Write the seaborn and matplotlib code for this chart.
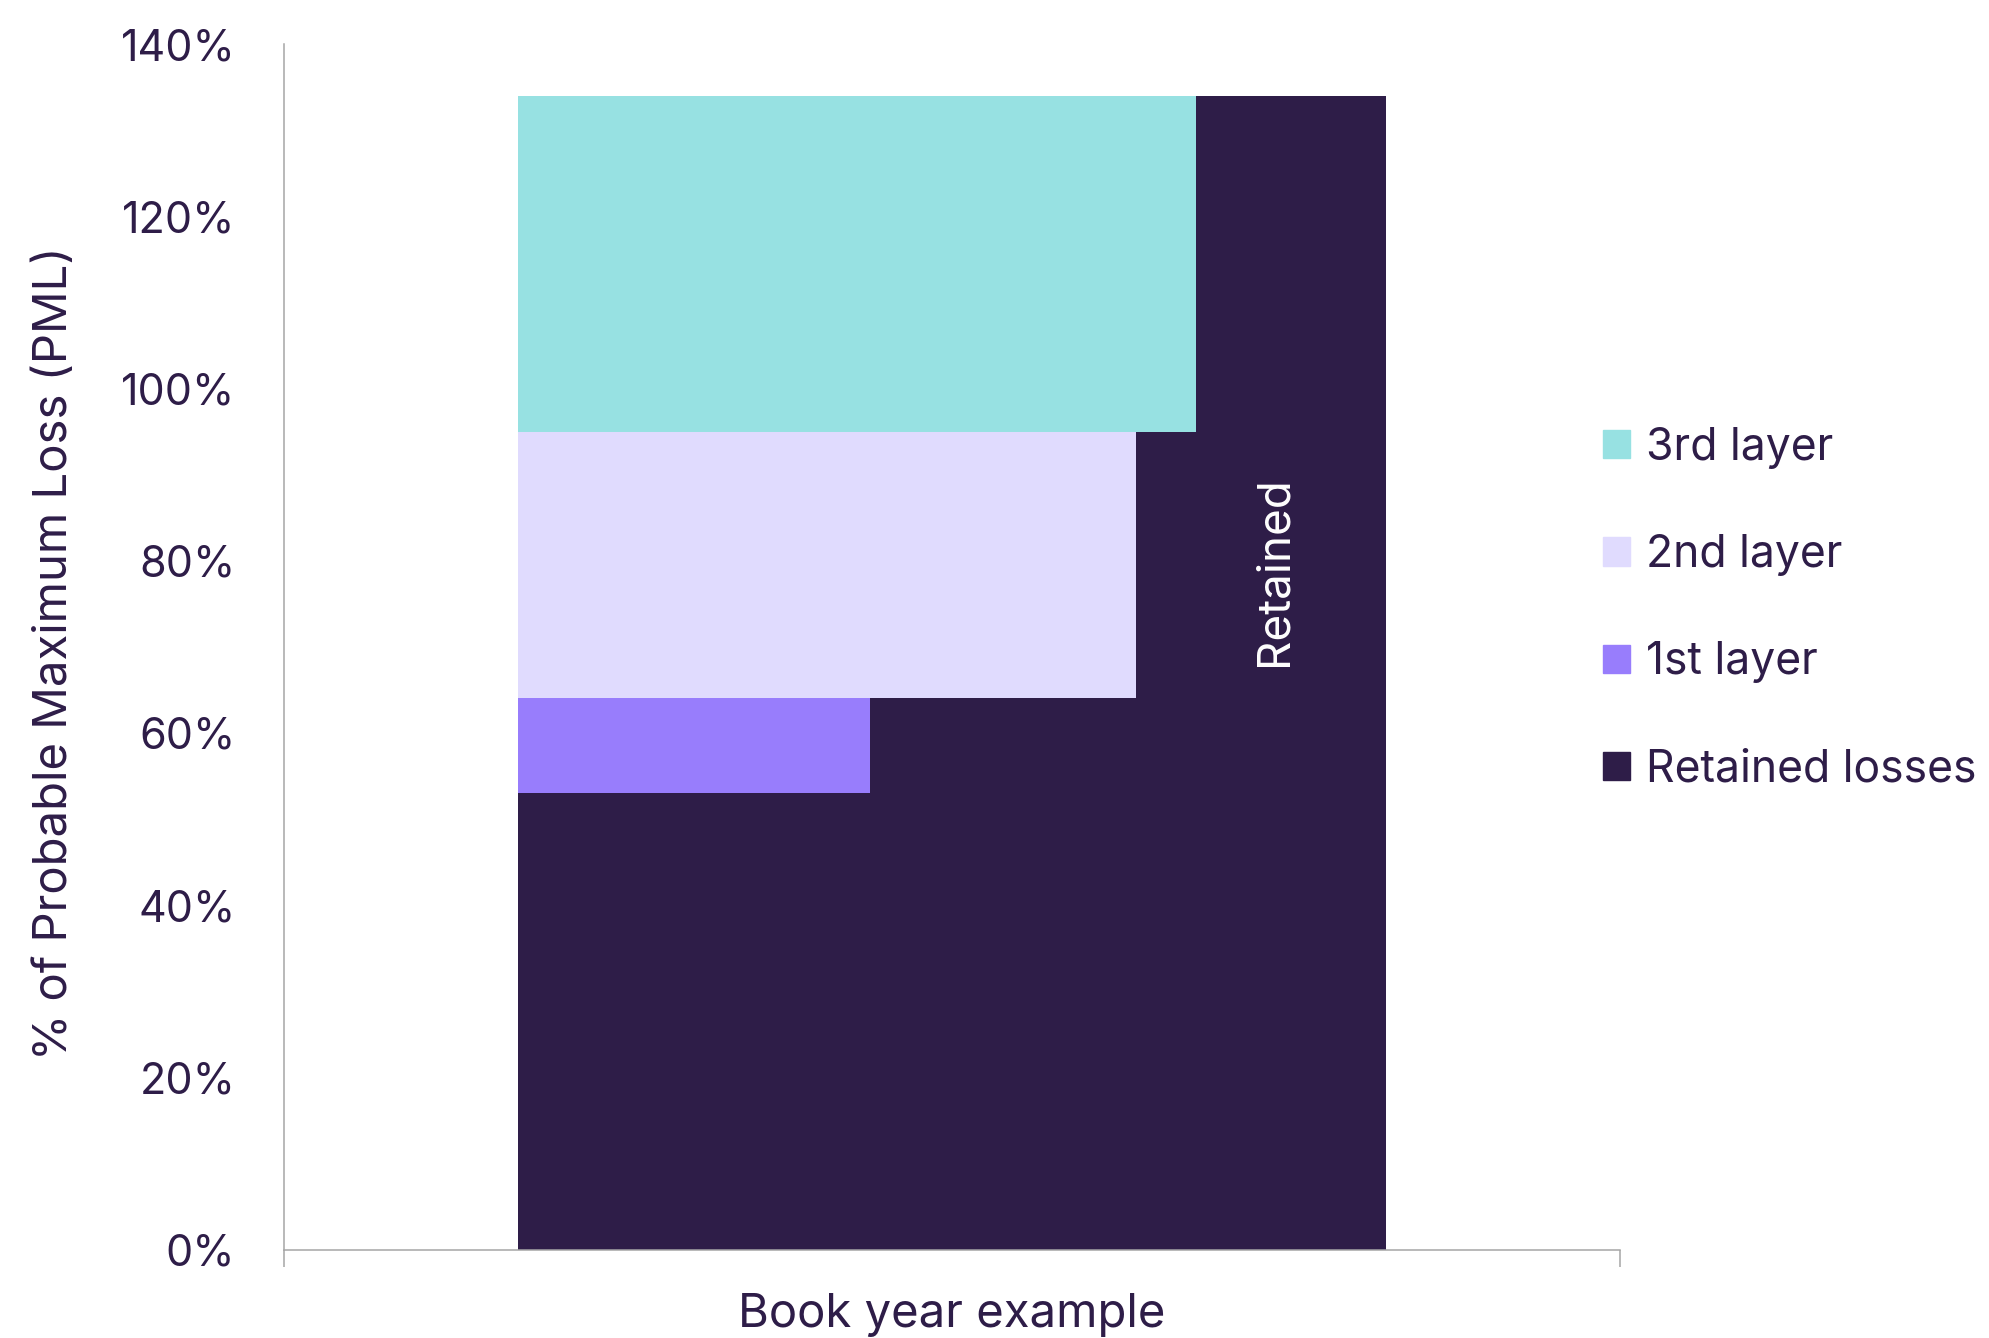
import matplotlib
matplotlib.use('Agg')
import matplotlib.pyplot as plt
import seaborn as sns
from matplotlib.patches import Patch
from matplotlib.ticker import PercentFormatter

# data (% of PML)
category = 'Book year example'
total_pml = 134
layer_names = ['1st layer', '2nd layer', '3rd layer']
layer_bottom = [53, 64, 95]
layer_height = [11, 31, 39]
layer_share = [0.405, 0.712, 0.781]   # part of the bar width ceded to the layer
retained_name = 'Retained losses'
retained_note = 'Retained'

DARK = '#2E1D48'
layer_colors = ['#987DFC', '#E0DBFE', '#97E1E2']
GREY = '#A6A6A6'

sns.set_style('white')
plt.rcParams['font.family'] = ['Inter', 'DejaVu Sans']

fig = plt.figure(figsize=(19.89, 13.38), dpi=100)
ax = fig.add_axes([0.1428, 0.0661, 0.6717, 0.9010])

bar_w = 0.65
sns.barplot(x=[category], y=[total_pml], color=DARK, width=bar_w,
            saturation=1, ax=ax, linewidth=0)
for c, b, h, s in zip(layer_colors, layer_bottom, layer_height, layer_share):
    ax.bar(-bar_w / 2, h, width=bar_w * s, bottom=b, align='edge',
           color=c, linewidth=0)

ax.text(0.241, 78.8, retained_note, rotation=90, color='white',
        ha='center', va='center', fontsize=33)

ax.set_xlim(-0.5, 0.5)
ax.set_ylim(0, 140)
ax.set_yticks(range(0, 141, 20))
ax.yaxis.set_major_formatter(PercentFormatter(decimals=0))
ax.set_xticks([-0.5, 0.5])
ax.set_xticklabels(['', ''])
ax.tick_params(axis='x', length=12, width=1.1, color=GREY, direction='out', bottom=True)
ax.tick_params(axis='y', length=0, pad=35, labelsize=31, labelcolor=DARK)

for side in ['top', 'right']:
    ax.spines[side].set_visible(False)
for side in ['left', 'bottom']:
    ax.spines[side].set_color(GREY)
    ax.spines[side].set_linewidth(1.1)

ax.set_ylabel('% of Probable Maximum Loss (PML)', fontsize=34, color=DARK)
ax.yaxis.set_label_coords(-0.155, 0.495)
ax.set_xlabel(category, fontsize=34, color=DARK)
ax.xaxis.set_label_coords(0.5, -0.036)

handles = [Patch(color=c, label=n) for c, n in zip(layer_colors[::-1], layer_names[::-1])]
handles.append(Patch(color=DARK, label=retained_name))
fig.legend(handles=handles, loc='center left', bbox_to_anchor=(0.806, 0.545),
           frameon=False, fontsize=32, labelcolor=DARK, borderpad=0,
           borderaxespad=0, handlelength=0.61, handleheight=0.61,
           handletextpad=0.35, labelspacing=1.47)

fig.savefig('out.png', dpi=100)
